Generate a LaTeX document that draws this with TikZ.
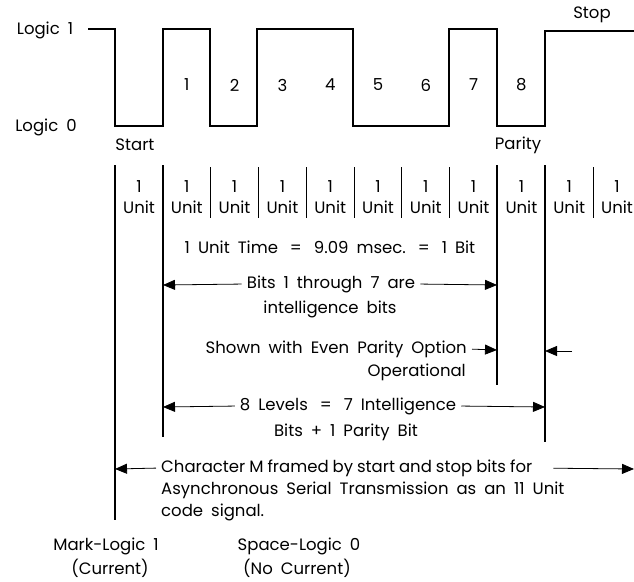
\documentclass[tikz,border=0pt]{standalone}
\usepackage{fontspec}
\setmainfont{Poppins}
\usetikzlibrary{arrows.meta}

% label font, with wide word spaces
\newcommand{\lblfont}{\fontsize{16.5}{21}\selectfont\spaceskip=8pt plus 1pt\relax}
% same font, tighter word spaces
\newcommand{\tightfont}{\fontsize{16.5}{21}\selectfont\spaceskip=4pt plus 1pt\relax}
% wider spacing round an equals sign
\newcommand{\eqsp}{\hspace{12pt}=\hspace{12pt}}

\begin{document}
\begin{tikzpicture}[x=1pt,y=-1pt,
  every node/.style={font=\lblfont, inner sep=1pt},
  signal/.style={line width=2.6pt, line join=miter},
  unitline/.style={line width=1.1pt},
  divline/.style={line width=0.8pt},
  dimarrow/.style={line width=0.8pt, shorten <=4pt, -{Triangle[length=12pt,width=10pt]}}]

\useasboundingbox (0,0) rectangle (634,581);

% Draw the waveform of character M (start, bits 1-8, stop)
\draw[signal] (88,29) -- (115,29) -- (115,126) -- (163,126) -- (163,29)
  -- (210,29) -- (210,126) -- (257,126) -- (257,29) -- (353,29) -- (353,126)
  -- (449,126) -- (449,29) -- (497,29) -- (497,126) -- (545,126) -- (545,31)
  -- (640,31);

% Level and frame labels
\node (one) at (45,30) {Logic 1};
\node (zero) at (46,127) {Logic 0};
\node (start) at (135,145) {Start};
\node (parity) at (518,145) {Parity};
\node (stop) at (592,15) {Stop};

% Number the bits
\foreach \i in {1,...,8} {
    \node (bit\i) at (139+47.8*\i, 85) {\i};
}

% Draw the unit boundaries
\draw[unitline] (115,165) -- (115,520);
\draw[unitline] (163,165) -- (163,437);
\draw[unitline] (497,165) -- (497,385);
\draw[unitline] (545,165) -- (545,442);
\foreach \k in {2,...,7,10} {
    \draw[divline] (115+47.8*\k,167) -- (115+47.8*\k,218);
}

% Label each unit
\foreach \k in {0,...,10} {
    \node[align=center] (unit\k) at (139+47.8*\k, 197) {1\\Unit};
}

\node (time) at (330,247) {1 Unit Time\eqsp 9.09 msec.\eqsp 1 Bit};

% Intelligence bits
\coordinate (bA1) at (163,285);
\coordinate (bA7) at (497,285);
\node (bitsA) at (331,284) {Bits 1 through 7 are};
\node (bitsB) at (330,309) {intelligence bits};
\draw[dimarrow] (bitsA.west) -- (bA1);
\draw[dimarrow] (bitsA.east) -- (bA7);

% Parity option
\coordinate (pA7) at (497,350);
\coordinate (pA8) at (545,351);
\coordinate (pR) at (572,351);
\node[anchor=east] (evenA) at (468,349) {Shown with Even Parity Option};
\node[anchor=east] (evenB) at (467,372) {Operational};
\draw[dimarrow] (evenA.east) -- (pA7);
\draw[dimarrow, shorten <=0pt] (pR) -- (pA8);

% Eight levels
\coordinate (lA1) at (163,407);
\coordinate (lA8) at (545,407);
\node (lvlA) at (348,406) {8 Levels\eqsp 7 Intelligence};
\node (lvlB) at (346,432) {Bits + 1 Parity Bit};
\draw[dimarrow] (lvlA.west) -- (lA1);
\draw[dimarrow] (lvlA.east) -- (lA8);

% Whole character
\coordinate (cL) at (115,469);
\coordinate (cR) at (634,469);
\node[anchor=west, font=\tightfont] (charA) at (160,468)
    {Character M framed by start and stop bits for};
\node[anchor=west] (charB) at (160,490) {Asynchronous Serial Transmission as an 11 Unit};
\node[anchor=west] (charC) at (160,512) {code signal.};
\draw[dimarrow] (charA.west) -- (cL);
\draw[dimarrow, shorten <=20pt] (charA.east) -- (cR);

% Mark and space
\node (mark) at (106,546) {Mark-Logic 1};
\node (markB) at (110,568) {(Current)};
\node (space) at (299,546) {Space-Logic 0};
\node (spaceB) at (297,568) {(No Current)};

\end{tikzpicture}
\end{document}
